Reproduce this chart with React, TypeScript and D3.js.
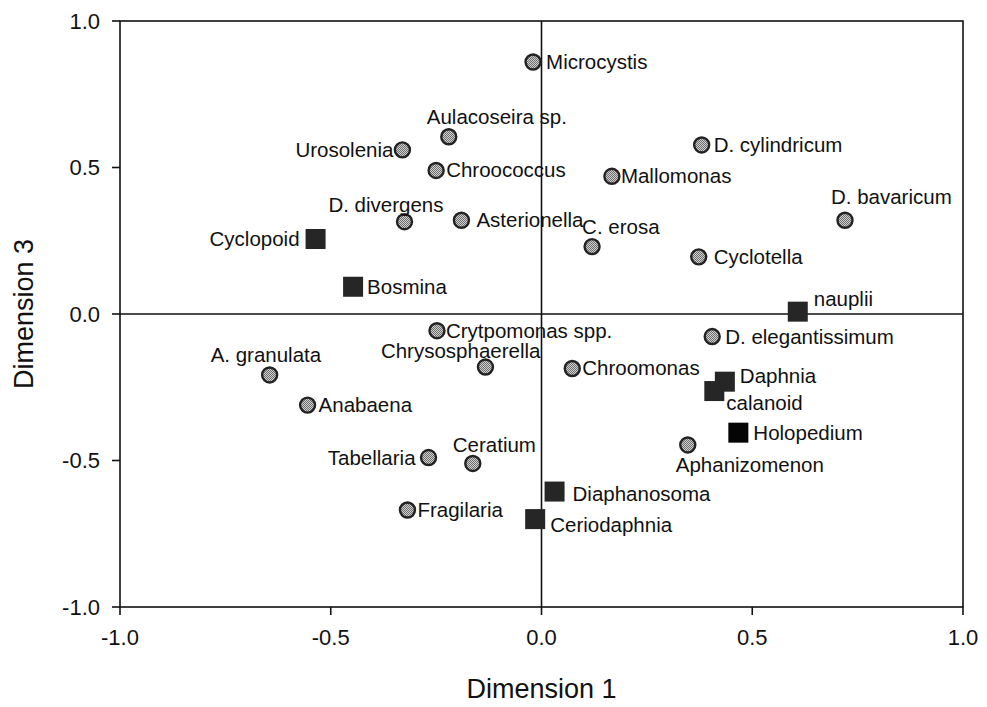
import React from "react";
import * as d3 from "d3";

const taxa = [
  "Microcystis", "Aulacoseira sp.", "Urosolenia", "Chroococcus", "D. divergens",
  "Asterionella", "C. erosa", "Mallomonas", "D. cylindricum", "D. bavaricum",
  "Cyclotella", "D. elegantissimum", "Crytpomonas spp.", "Chrysosphaerella", "Chroomonas",
  "A. granulata", "Anabaena", "Tabellaria", "Ceratium", "Fragilaria", "Aphanizomenon",
  "Cyclopoid", "Bosmina", "nauplii", "Daphnia", "calanoid", "Holopedium",
  "Diaphanosoma", "Ceriodaphnia",
];
const dim1 = [
  -0.02, -0.22, -0.33, -0.25, -0.325,
  -0.19, 0.12, 0.167, 0.38, 0.72,
  0.373, 0.405, -0.248, -0.133, 0.073,
  -0.645, -0.555, -0.268, -0.163, -0.318, 0.347,
  -0.536, -0.447, 0.608, 0.435, 0.41, 0.467,
  0.031, -0.015,
];
const dim3 = [
  0.86, 0.605, 0.56, 0.49, 0.315,
  0.32, 0.23, 0.47, 0.577, 0.32,
  0.195, -0.077, -0.057, -0.181, -0.186,
  -0.208, -0.311, -0.49, -0.51, -0.669, -0.447,
  0.256, 0.093, 0.008, -0.231, -0.263, -0.405,
  -0.606, -0.70,
];
const group = [
  "phyto", "phyto", "phyto", "phyto", "phyto",
  "phyto", "phyto", "phyto", "phyto", "phyto",
  "phyto", "phyto", "phyto", "phyto", "phyto",
  "phyto", "phyto", "phyto", "phyto", "phyto", "phyto",
  "zoo", "zoo", "zoo", "zoo", "zoo", "zoo",
  "zoo", "zoo",
];
const xTicks = [-1.0, -0.5, 0.0, 0.5, 1.0];
const yTicks = [-1.0, -0.5, 0.0, 0.5, 1.0];
const xTitle = "Dimension 1";
const yTitle = "Dimension 3";

// label placement relative to marker: [dx, dy(baseline), anchor]
const labelPlace: [number, number, string][] = [
  [13, 7, "start"], [-22, -13, "start"], [-9, 7, "end"], [10, 7, "start"], [39, -10, "end"],
  [15, 7, "start"], [-10, -13, "start"], [9, 7, "start"], [12, 7, "start"], [-14, -16, "start"],
  [15, 7, "start"], [13, 7, "start"], [9, 7, "start"], [55, -9, "end"], [10, 7, "start"],
  [-59, -13, "start"], [11, 7, "start"], [-13, 7, "end"], [-20, -11, "start"], [10, 7, "start"], [-12, 27, "start"],
  [-16, 7, "end"], [14, 7, "start"], [16, -6, "start"], [15, 1, "start"], [12, 19, "start"], [15, 7, "start"],
  [18, 9, "start"], [15, 13, "start"],
];

const FONT = "Arial, 'Liberation Sans', Helvetica, sans-serif";

export default function App() {
  const W = 987, H = 707;
  const x = d3.scaleLinear().domain([-1, 1]).range([120, 963]);
  const y = d3.scaleLinear().domain([-1, 1]).range([607, 21]);
  const fmt = (v: number) => d3.format(".1f")(v).replace("\u2212", "-");

  const pts = taxa.map((t, i) => ({ t, x: dim1[i], y: dim3[i], g: group[i], p: labelPlace[i] }));
  const phyto = pts.filter(d => d.g === "phyto");
  const zoo = pts.filter(d => d.g === "zoo");

  return (
    <svg width={W} height={H} style={{ position: "absolute", left: 0, top: 0, background: "#fff" }} fontFamily={FONT}>
      <defs>
        <pattern id="dots" width="2" height="2" patternUnits="userSpaceOnUse">
          <rect width="2" height="2" fill="#cfcfcf" />
          <rect width="1" height="1" fill="#6e6e6e" />
          <rect x="1" y="1" width="1" height="1" fill="#6e6e6e" />
        </pattern>
      </defs>
      <rect x={0} y={0} width={W} height={H} fill="#fff" />
      {/* frame */}
      <rect x={x(-1)} y={y(1)} width={x(1) - x(-1)} height={y(-1) - y(1)} fill="none" stroke="#111" strokeWidth={1.6} />
      {/* zero lines */}
      <line x1={x(-1)} x2={x(1)} y1={y(0)} y2={y(0)} stroke="#111" strokeWidth={1.6} />
      <line x1={x(0)} x2={x(0)} y1={y(1)} y2={y(-1)} stroke="#111" strokeWidth={1.6} />
      {/* y ticks */}
      {yTicks.map(v => (
        <g key={"y" + v}>
          <line x1={x(-1) - 8} x2={x(-1)} y1={y(v)} y2={y(v)} stroke="#111" strokeWidth={1.6} />
          <text x={x(-1) - 20} y={y(v)} dy="0.36em" textAnchor="end" fontSize={22} fill="#111">{fmt(v)}</text>
        </g>
      ))}
      {/* x ticks */}
      {xTicks.map(v => (
        <g key={"x" + v}>
          <line x1={x(v)} x2={x(v)} y1={y(-1)} y2={y(-1) + 8} stroke="#111" strokeWidth={1.6} />
          <text x={x(v)} y={645} textAnchor="middle" fontSize={22} fill="#111">{fmt(v)}</text>
        </g>
      ))}
      <text x={x(0)} y={698} textAnchor="middle" fontSize={27} fill="#111">{xTitle}</text>
      <text transform={`translate(33,${y(0)}) rotate(-90)`} textAnchor="middle" fontSize={27} fill="#111">{yTitle}</text>
      {/* phytoplankton circles */}
      {phyto.map(d => (
        <circle key={"c" + d.t} cx={x(d.x)} cy={y(d.y)} r={7.5} fill="url(#dots)" stroke="#222" strokeWidth={2.4} />
      ))}
      {/* zooplankton squares */}
      {zoo.map(d => (
        <rect key={"s" + d.t} x={x(d.x) - 10} y={y(d.y) - 10} width={20} height={20}
          fill={d.t === "Holopedium" ? "#050505" : "#262626"} />
      ))}
      {/* labels */}
      {pts.map(d => (
        <text key={"l" + d.t} x={x(d.x) + d.p[0]} y={y(d.y) + d.p[1]} textAnchor={d.p[2]} fontSize={20.5} fill="#111">{d.t}</text>
      ))}
    </svg>
  );
}
